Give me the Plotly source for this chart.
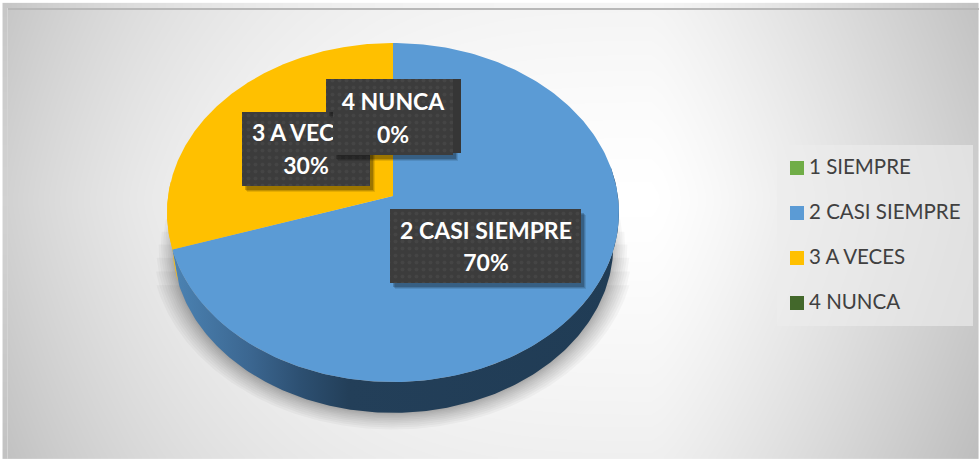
import numpy as np
import plotly.graph_objects as go

categories = ["1 SIEMPRE", "2 CASI SIEMPRE", "3 A VECES", "4 NUNCA"]
percent = [0, 70, 30, 0]
colors = ["#70ad47", "#5b9bd5", "#ffc000", "#43682b"]

WIDTH, HEIGHT = 979, 459
FONT = "Lato"

# pie geometry in screen pixels, k is the tilt perspective
APEX_X, APEX_Y = 393, 196
A, B, K = 224.9, 167.9, -0.0973


def rim(start, stop, n=240):
    # angles in degrees, clockwise from the top of the pie
    t = np.radians(np.linspace(start, stop, n))
    u, v = np.sin(t), -np.cos(t)
    w = 1 + K * v
    return APEX_X + A * u / w, APEX_Y + B * v / w


def base(start, stop, n=240):
    # lower edge of the wall, a little narrower than the top face
    x, y = rim(start, stop, n)
    return APEX_X + (x - APEX_X) * 0.975, 245 + (y - 212.5) * 0.99


def polygon(x, y, color, **kw):
    return go.Scatter(x=list(x), y=list(y), mode="lines", fill="toself", fillcolor=color,
                      line=dict(width=0), hoverinfo="skip", showlegend=False, **kw)


def label_box(outline, lines, center_x, line_ys, extra=None):
    xs, ys = zip(*outline)
    # soft shadow
    for off, alpha in [(6, 0.10), (5, 0.14), (4, 0.20)]:
        fig.add_trace(polygon([p + off - 1 for p in xs], [p + off for p in ys], f"rgba(0,0,0,{alpha})"))
    if extra:
        ex, ey = zip(*extra)
        fig.add_trace(polygon(ex, ey, "#363636"))
    fig.add_trace(polygon(xs, ys, "#3c3c3c",
                          fillpattern=dict(shape=".", fgcolor="#4e4e4e", bgcolor="#3c3c3c",
                                           size=7, solidity=0.22)))
    fig.add_trace(go.Scatter(x=[center_x] * len(lines), y=line_ys, mode="text", text=lines,
                             textposition="middle center", hoverinfo="skip", showlegend=False,
                             textfont=dict(family=FONT, size=23, color="white", weight="bold")))


fig = go.Figure()

# background gradient, white around the right of the pie
gx = np.linspace(8, WIDTH, 90)
gy = np.linspace(8, HEIGHT, 45)
xx, yy = np.meshgrid(gx, gy)
across = np.where(xx < 655, 46 * (np.abs(xx - 655) / 650) ** 3, 50 * (np.abs(xx - 655) / 325) ** 1.2)
down = 16 * (np.abs(yy - 200) / 260) ** 1.3
fig.add_trace(go.Heatmap(x=gx, y=gy, z=255 - across - down, zmin=0, zmax=255, zsmooth="best",
                         showscale=False, hoverinfo="skip",
                         colorscale=[[0, "#000000"], [1, "#ffffff"]]))

# shadow under the pie, outer layers stop lower so it fades up the sides
layers = 12
for grow, half in zip(np.linspace(1, 0, layers), np.linspace(72, 118, layers)):
    bx, by = base(180 - half, 180 + half)
    spread = 1 + 0.1 * grow**1.4
    fig.add_trace(polygon(APEX_X + (bx - APEX_X) * spread, 245 + (by - 245) * spread,
                          "rgba(0,0,0,0.03)"))

# side wall
wx, wy = rim(80, 252)
bx, by = base(80, 252)
fig.add_trace(polygon(np.r_[wx, bx[::-1]], np.r_[wy, by[::-1]], "#213d56",
                      fillgradient=dict(type="horizontal", start=175, stop=620,
                                        colorscale=[[0, "#4b82b2"], [0.17, "#3b6690"],
                                                    [0.28, "#2d5072"], [0.39, "#233f59"],
                                                    [1, "#203c55"]])))
wx, wy = rim(252, 275, 40)
bx, by = base(252, 275, 40)
fig.add_trace(polygon(np.r_[wx, bx[::-1]], np.r_[wy, by[::-1]], colors[2]))

# top face, one slice per category
angle = 0
for name, value, color in zip(categories, percent, colors):
    if value > 0:
        stop = angle + value * 3.6
        rx, ry = rim(angle, stop)
        fig.add_trace(polygon(np.r_[APEX_X, rx, APEX_X], np.r_[APEX_Y, ry, APEX_Y], color, name=name))
        angle = stop

# data labels, same order as the reference so 4 NUNCA hides part of 3 A VECES
label_box([(390, 209), (581, 209), (581, 283), (390, 283), (390, 209)],
          [categories[1], f"{percent[1]}%"], 486, [233, 265])
label_box([(242, 112), (370, 112), (370, 186), (242, 186), (242, 112)],
          [categories[2], f"{percent[2]}%"], 306, [135, 168])
label_box([(326, 79), (453, 79), (453, 155), (333, 155), (333, 112), (326, 112), (326, 79)],
          [categories[3], f"{percent[3]}%"], 393, [104, 137],
          extra=[(453, 79), (461, 79), (461, 153), (453, 153), (453, 79)])

# legend panel and entries
fig.add_trace(polygon([777, 973, 973, 777, 777], [145, 145, 326, 326, 145], "rgba(237,237,237,0.64)"))
fig.add_trace(go.Scatter(x=[797] * 4, y=[168, 213, 258, 303], mode="markers", hoverinfo="skip",
                         showlegend=False, marker=dict(symbol="square", size=14, color=colors)))
fig.add_trace(go.Scatter(x=[809] * 4, y=[169, 214, 259, 304], mode="text", text=categories,
                         textposition="middle right", hoverinfo="skip", showlegend=False,
                         textfont=dict(family=FONT, size=20.5, color="#404040")))

fig.update_layout(
    width=WIDTH, height=HEIGHT,
    margin=dict(l=0, r=0, t=0, b=0),
    paper_bgcolor="white", plot_bgcolor="white",
    xaxis=dict(range=[0, WIDTH], visible=False, fixedrange=True),
    yaxis=dict(range=[HEIGHT, 0], visible=False, fixedrange=True),
    shapes=[
        dict(type="rect", x0=8, x1=WIDTH, y0=8, y1=10, line_width=0, fillcolor="#b8b8b8"),
        dict(type="rect", x0=7, x1=8, y0=8, y1=HEIGHT, line_width=0, fillcolor="#d4d4d4"),
    ],
)

fig.write_html("out.html", config=dict(displayModeBar=False),
               post_script="document.body.style.margin='0';document.body.style.overflow='hidden';")
